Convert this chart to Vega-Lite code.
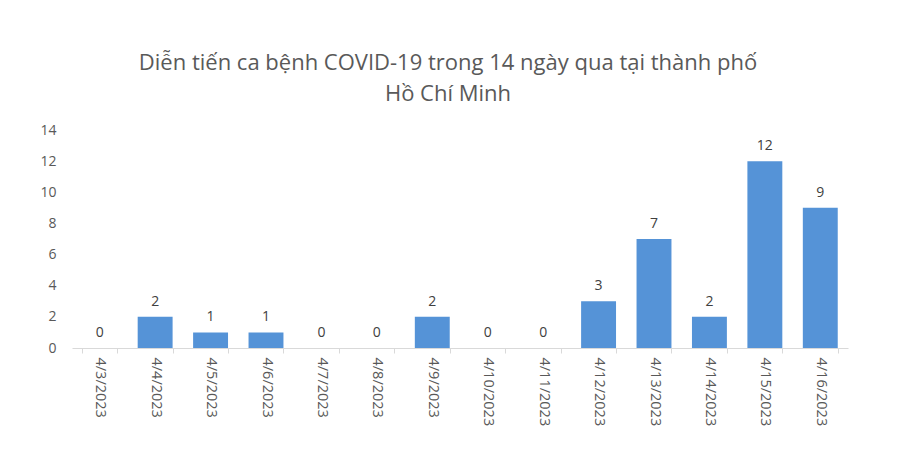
{
  "$schema": "https://vega.github.io/schema/vega-lite/v6.json",
  "autosize": {"type": "none"},
  "width": 776,
  "height": 218,
  "padding": {"left": 72, "top": 130, "right": 52, "bottom": 124},
  "background": "white",
  "title": {
    "text": ["Diễn tiến ca bệnh COVID-19 trong 14 ngày qua tại thành phố", "Hồ Chí Minh"],
    "font": "Open Sans",
    "fontSize": 22,
    "fontWeight": "normal",
    "color": "#595959",
    "lineHeight": 31,
    "anchor": "middle",
    "dx": -12,
    "offset": 17
  },
  "data": {
    "values": [
      {"date": "4/3/2023", "cases": 0},
      {"date": "4/4/2023", "cases": 2},
      {"date": "4/5/2023", "cases": 1},
      {"date": "4/6/2023", "cases": 1},
      {"date": "4/7/2023", "cases": 0},
      {"date": "4/8/2023", "cases": 0},
      {"date": "4/9/2023", "cases": 2},
      {"date": "4/10/2023", "cases": 0},
      {"date": "4/11/2023", "cases": 0},
      {"date": "4/12/2023", "cases": 3},
      {"date": "4/13/2023", "cases": 7},
      {"date": "4/14/2023", "cases": 2},
      {"date": "4/15/2023", "cases": 12},
      {"date": "4/16/2023", "cases": 9}
    ]
  },
  "encoding": {
    "x": {
      "field": "date",
      "type": "nominal",
      "sort": null,
      "title": null,
      "scale": {"paddingInner": 0.37, "paddingOuter": 0.185},
      "axis": {
        "labelAngle": 90,
        "labelAlign": "left",
        "labelBaseline": "middle",
        "labelFont": "Open Sans",
        "labelFontSize": 14.5,
        "labelColor": "#595959",
        "labelPadding": 4,
        "domainColor": "#d9d9d9",
        "tickColor": "#d9d9d9",
        "tickSize": 5,
        "tickBand": "extent"
      }
    },
    "y": {
      "field": "cases",
      "type": "quantitative",
      "title": null,
      "scale": {"domain": [0, 14]},
      "axis": {
        "values": [0, 2, 4, 6, 8, 10, 12, 14],
        "domain": false,
        "ticks": false,
        "grid": false,
        "labelFont": "Open Sans",
        "labelFontSize": 14,
        "labelColor": "#595959",
        "labelPadding": 16
      }
    }
  },
  "layer": [
    {
      "mark": {"type": "bar", "color": "#5593d7"}
    },
    {
      "mark": {
        "type": "text",
        "baseline": "bottom",
        "dy": -8,
        "font": "Open Sans",
        "fontSize": 14,
        "color": "#404040"
      },
      "encoding": {"text": {"field": "cases", "type": "quantitative"}}
    }
  ],
  "config": {"view": {"stroke": null}}
}
